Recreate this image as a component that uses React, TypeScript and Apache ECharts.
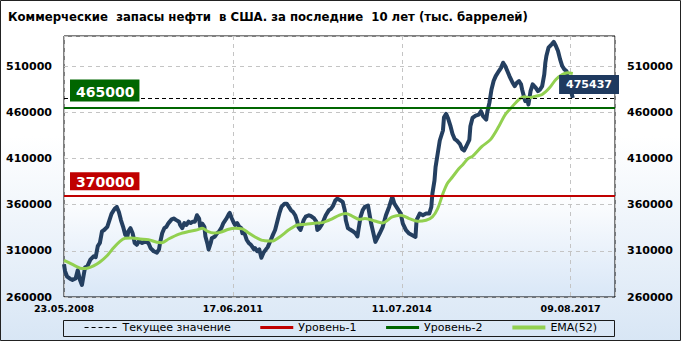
import React, { useEffect, useRef } from 'react';
import * as echarts from 'echarts';

const TITLE = 'Коммерческие  запасы нефти  в США. за последние  10 лет (тыс. баррелей)';

const X_TICK_WEEKS = [0, 160, 320, 480];
const X_TICK_LABELS = ['23.05.2008', '17.06.2011', '11.07.2014', '09.08.2017'];
const Y_TICKS = [260000, 310000, 360000, 410000, 460000, 510000];

const CURRENT = 475437;
const LEVEL_1 = 370000;
const LEVEL_2 = 465000;

// weekly stock readings (week index from 23.05.2008, thousand barrels)
const STOCK_WEEKS = [
  0, 1, 3, 6, 8, 11, 13, 15, 17, 19, 20, 22, 25, 28, 30, 32, 34, 36, 38, 41,
  43, 45, 48, 50, 52, 54, 56, 58, 60, 61, 63, 65, 67, 69, 71, 74, 77, 80, 82, 85,
  88, 90, 91, 93, 95, 97, 99, 102, 104, 106, 109, 110, 112, 114, 116, 118, 120, 122, 124, 126,
  128, 129, 131, 133, 134, 136, 137, 139, 140, 143, 145, 147, 149, 151, 154, 156, 157, 159, 161, 162,
  164, 166, 168, 169, 171, 173, 175, 177, 178, 180, 181, 183, 185, 187, 189, 191, 193, 196, 198, 200,
  202, 204, 206, 209, 211, 213, 215, 217, 219, 221, 222, 224, 226, 227, 229, 232, 234, 237, 239, 240,
  242, 244, 246, 248, 251, 253, 255, 257, 259, 262, 264, 266, 267, 269, 271, 274, 276, 278, 279, 281,
  283, 285, 288, 291, 295, 299, 302, 305, 308, 311, 313, 316, 319, 321, 324, 327, 330, 333, 334, 337,
  340, 343, 346, 348, 349, 351, 352, 354, 356, 359, 360, 362, 364, 366, 368, 370, 372, 375, 377, 379,
  381, 384, 385, 387, 390, 393, 395, 397, 400, 401, 403, 405, 407, 409, 412, 414, 416, 418, 420, 422,
  425, 427, 429, 431, 433, 434, 436, 437, 439, 440, 442, 444, 447, 449, 451, 453, 455, 456, 457, 459,
  462, 464, 466, 468, 470, 472, 474, 476, 477, 479, 480, 482,
];
const STOCK_VALUES = [
  295500, 288000, 282000, 279500, 278500, 280000, 289000, 279000, 273000, 286000, 292000, 293000, 300500, 304000, 303000, 315000, 318500, 331000, 332500, 336000,
  343000, 350000, 355500, 357500, 352000, 343000, 336000, 327500, 325500, 331000, 334500, 329000, 318500, 316500, 320500, 318500, 320000, 318500, 313000, 309500,
  308000, 311500, 318500, 329000, 334500, 336000, 340000, 344000, 345000, 343500, 341500, 338000, 334500, 340000, 338000, 341500, 340000, 341500, 341500, 348500,
  345000, 336000, 339500, 336000, 325500, 317000, 311500, 318500, 323500, 325500, 329000, 331000, 334500, 340000, 345000, 349500, 351000, 345000, 340000, 338000,
  340000, 336000, 334500, 329000, 329000, 322000, 318500, 316500, 315000, 311500, 313000, 309500, 311500, 302500, 308000, 311000, 314000, 322000, 327500, 332500,
  341500, 350500, 357500, 361000, 361000, 357500, 354000, 352000, 348500, 341500, 336000, 332500, 339500, 343000, 347000, 348500, 347500, 345000, 341500, 332500,
  334500, 338000, 343000, 348500, 354000, 355500, 359000, 364500, 366500, 364500, 363000, 354000, 343000, 334500, 333000, 331000, 329000, 325500, 333000, 347000,
  354000, 357500, 359000, 339500, 319700, 328700, 336000, 348500, 357500, 368300, 361000, 355700, 350300, 339500, 332300, 328700, 326900, 325100, 343100, 350300,
  348500, 350300, 350300, 357500, 371900, 386300, 400600, 415000, 429400, 440200, 454600, 458200, 452800, 445600, 436600, 431200, 429400, 425800, 420400, 418600,
  422900, 430000, 444800, 453800, 456400, 457500, 461100, 455700, 452000, 460000, 470100, 484600, 493700, 499100, 504600, 508000, 513600, 510000, 504600, 499100,
  491900, 488300, 491900, 493700, 490100, 484600, 475600, 472000, 473800, 468300, 482800, 490100, 486400, 482800, 484600, 488300, 500900, 513600, 520900, 529900,
  533500, 536100, 531700, 526300, 517200, 510000, 506400, 504600, 499100, 492000, 484600, 475437,
];

const EMA_WEEKS = [
  0, 6, 12, 17, 22, 28, 34, 41, 47, 53, 58, 64, 72, 80, 88, 93, 99, 109, 118, 126,
  131, 136, 142, 148, 156, 162, 169, 175, 181, 187, 190, 197, 205, 213, 221, 229, 237, 245, 253, 261,
  267, 273, 280, 285, 292, 302, 311, 319, 327, 335, 343, 349, 354, 359, 363, 368, 374, 378, 383, 387,
  396, 404, 412, 418, 425, 431, 436, 441, 447, 453, 460, 466, 472, 477, 482,
];
const EMA_VALUES = [
  299700, 296500, 293000, 290900, 291200, 293700, 297900, 305000, 313200, 320300, 323500, 323800, 322800, 322100, 319200, 318800, 322800, 328100, 330900, 332700,
  334500, 331000, 329200, 329900, 333400, 334500, 333800, 329200, 324900, 321500, 321000, 320500, 325600, 332700, 338000, 338700, 339800, 340500, 344000, 348700,
  350400, 347600, 344000, 344900, 343100, 340200, 346700, 348500, 344900, 342000, 343100, 346700, 355700, 371900, 382700, 389900, 398800, 403500, 410000, 412200,
  423000, 430300, 444800, 457500, 466500, 473800, 476700, 475600, 477400, 479200, 486400, 495500, 500900, 502800, 502000,
];

const zip = (xs: number[], ys: number[]) => xs.map((x, i) => [x, ys[i]]);

export default function App() {
  const ref = useRef<HTMLDivElement>(null);

  useEffect(() => {
    document.body.style.margin = '0';
    if (!ref.current) return;
    const chart = echarts.init(ref.current, undefined, { renderer: 'svg' });

    const yLabel = (v: number) => (Y_TICKS.includes(v) ? String(v) : '');
    const xLabel = (v: number) => {
      const i = X_TICK_WEEKS.indexOf(v);
      return i >= 0 ? X_TICK_LABELS[i] : '';
    };
    const axisFont = { fontFamily: 'DejaVu Sans', fontWeight: 'bold' as const, color: '#000' };
    const gridDash = { color: '#c4c4c4', type: [4, 4] as any, width: 1 };

    const levelLabel = (bg: string, size: number, lh: number, pad: number[], pos: string, dist: number[]) => ({
      show: true,
      position: pos,
      distance: dist,
      backgroundColor: bg,
      color: '#fff',
      fontFamily: 'DejaVu Sans',
      fontWeight: 'bold',
      fontSize: size,
      lineHeight: lh,
      padding: pad,
    });

    chart.setOption({
      animation: false,
      backgroundColor: new echarts.graphic.LinearGradient(0, 0, 0, 1, [
        { offset: 0, color: '#ffffff' },
        { offset: 0.4, color: '#ffffff' },
        { offset: 1, color: '#d8e6f5' },
      ]),
      title: {
        text: TITLE,
        left: 8,
        top: 10,
        padding: 0,
        textStyle: { fontFamily: 'Liberation Sans Narrow, DejaVu Sans Condensed, sans-serif', fontWeight: 'bold', fontSize: 13, color: '#000' },
      },
      grid: {
        left: 64,
        right: 66,
        top: 36,
        bottom: 44,
        show: true,
        borderColor: '#000',
        borderWidth: 1,
        backgroundColor: new echarts.graphic.LinearGradient(0, 0, 0, 1, [
          { offset: 0, color: '#ffffff' },
          { offset: 0.6, color: '#ffffff' },
          { offset: 1, color: '#d9e7f7' },
        ]),
      },
      xAxis: {
        type: 'value',
        min: 0,
        max: 522,
        interval: 160,
        axisLine: { show: false },
        axisTick: { show: false },
        splitLine: { show: true, lineStyle: gridDash },
        axisLabel: { ...axisFont, fontSize: 9.5, margin: 6, formatter: xLabel, showMaxLabel: false },
      },
      yAxis: [
        {
          type: 'value',
          min: 260000,
          max: 542500,
          interval: 50000,
          axisLine: { show: false },
          axisTick: { show: false },
          splitLine: { show: true, lineStyle: gridDash },
          axisLabel: { ...axisFont, fontSize: 11, margin: 12, formatter: yLabel },
        },
        {
          type: 'value',
          position: 'right',
          min: 260000,
          max: 542500,
          interval: 50000,
          axisLine: { show: false },
          axisTick: { show: false },
          splitLine: { show: false },
          axisLabel: { ...axisFont, fontSize: 11, margin: 12, formatter: yLabel },
        },
      ],
      legend: {
        data: [
          { name: 'Текущее значение', lineStyle: { width: 1 } },
          { name: 'Уровень-1', lineStyle: { width: 3 } },
          { name: 'Уровень-2', lineStyle: { width: 3 } },
          { name: 'EMA(52)', lineStyle: { width: 4 } },
        ],
        left: 'center',
        top: 322,
        itemWidth: 33,
        itemHeight: 10,
        itemGap: 28,
        padding: 0,
        itemStyle: { opacity: 0 },
        textStyle: { fontFamily: 'DejaVu Sans', fontSize: 11, color: '#000' },
      },
      graphic: [
        {
          type: 'rect',
          silent: true,
          shape: { x: 63.5, y: 320.5, width: 551, height: 16 },
          style: { fill: 'none', stroke: '#1a1a1a', lineWidth: 1 },
        },
        {
          type: 'rect',
          silent: true,
          shape: { x: 0.5, y: 0.5, width: 680, height: 340 },
          style: { fill: 'none', stroke: '#222', lineWidth: 1 },
        },
      ],
      series: [
        {
          name: 'Уровень-1',
          type: 'line',
          data: [],
          symbol: 'none',
          z: 2,
          lineStyle: { color: '#C00000', width: 2.5 },
          itemStyle: { color: '#C00000' },
          markLine: {
            silent: true,
            symbol: ['none', 'none'],
            data: [{ yAxis: LEVEL_1 }],
            lineStyle: { color: '#C00000', width: 2, type: 'solid' },
            label: levelLabel('#C00000', 14, 15, [2, 5, 1, 6], 'insideStartTop', [6, 5]),
            emphasis: { disabled: true },
          },
        },
        {
          name: 'Уровень-2',
          type: 'line',
          data: [],
          symbol: 'none',
          z: 2,
          lineStyle: { color: '#006600', width: 2.5 },
          itemStyle: { color: '#006600' },
          markLine: {
            silent: true,
            symbol: ['none', 'none'],
            data: [{ yAxis: LEVEL_2 }],
            lineStyle: { color: '#006600', width: 2, type: 'solid' },
            label: levelLabel('#006600', 14, 16, [4, 5, 2, 6], 'insideStartTop', [6, 6]),
            emphasis: { disabled: true },
          },
        },
        {
          name: 'Текущее значение',
          type: 'line',
          data: [],
          symbol: 'none',
          z: 2,
          lineStyle: { color: '#000', width: 1, type: [4, 3] },
          itemStyle: { color: '#000' },
          markLine: {
            silent: true,
            symbol: ['none', 'none'],
            data: [{ yAxis: CURRENT }],
            lineStyle: { color: '#000', width: 1, type: [4, 3] },
            label: levelLabel('#1F3A5F', 11, 13, [3, 7, 3, 7], 'insideEndTop', [-4, 4]),
            emphasis: { disabled: true },
          },
        },
        {
          name: 'Запасы',
          type: 'line',
          data: zip(STOCK_WEEKS, STOCK_VALUES),
          symbol: 'none',
          z: 3,
          lineStyle: { color: '#243F60', width: 4, join: 'round' },
          itemStyle: { color: '#243F60' },
        },
        {
          name: 'EMA(52)',
          type: 'line',
          data: zip(EMA_WEEKS, EMA_VALUES),
          symbol: 'none',
          smooth: 0.3,
          z: 4,
          lineStyle: { color: '#92D050', width: 3 },
          itemStyle: { color: '#92D050' },
        },
      ],
    });

    return () => chart.dispose();
  }, []);

  return <div ref={ref} style={{ width: 681, height: 341 }} />;
}
